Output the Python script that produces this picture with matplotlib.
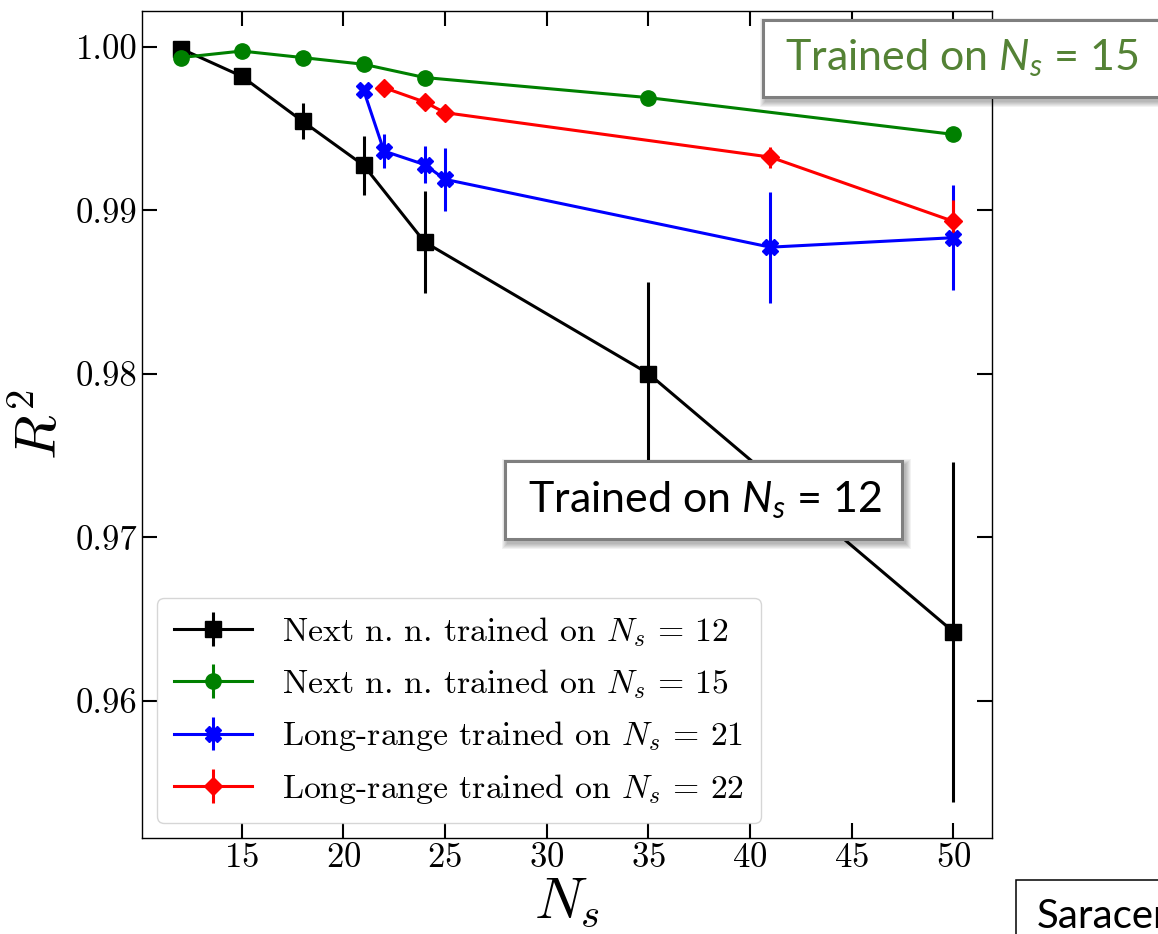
import numpy as np
import matplotlib
matplotlib.use("Agg")
import matplotlib.pyplot as plt
from matplotlib.patches import Rectangle

# R^2 of the predicted values against system size N_s
ns_nn12 = [12, 15, 18, 21, 24, 35, 50]
r2_nn12 = [0.99990, 0.99821, 0.99545, 0.99276, 0.98806, 0.98002, 0.96422]
err_nn12 = [0.0001, 0.0001, 0.0011, 0.0018, 0.0031, 0.0056, 0.0104]

ns_nn15 = [12, 15, 18, 21, 24, 35, 50]
r2_nn15 = [0.99935, 0.99975, 0.99935, 0.99894, 0.99813, 0.99690, 0.99465]
err_nn15 = [0.0001, 0.0001, 0.0001, 0.0001, 0.0001, 0.0001, 0.0001]

ns_lr21 = [21, 22, 24, 25, 41, 50]
r2_lr21 = [0.99735, 0.99363, 0.99280, 0.99190, 0.98775, 0.98833]
err_lr21 = [0.0002, 0.00104, 0.00115, 0.00194, 0.0034, 0.0032]

ns_lr22 = [22, 24, 25, 41, 50]
r2_lr22 = [0.99751, 0.99663, 0.99598, 0.99326, 0.98933]
err_lr22 = [0.0001, 0.0002, 0.0002, 0.00064, 0.0013]

labels = [r"Next n. n. trained on $N_s\,=\,12$",
          r"Next n. n. trained on $N_s\,=\,15$",
          r"Long-range trained on $N_s\,=\,21$",
          r"Long-range trained on $N_s\,=\,22$"]

plt.rcParams["font.family"] = "serif"
plt.rcParams["font.serif"] = ["cmr10"]
plt.rcParams["mathtext.fontset"] = "cm"
plt.rcParams["axes.formatter.use_mathtext"] = True
# fonts for the "custom" math set, used only by the slide boxes
plt.rcParams["mathtext.rm"] = "Lato"
plt.rcParams["mathtext.it"] = "Lato:italic"

W, H = 1158, 934
fig = plt.figure(figsize=(W / 100, H / 100), dpi=100)
ax = fig.add_axes([142 / W, 1 - 838 / H, (992 - 142) / W, (838 - 11) / H])

series = [(ns_nn12, r2_nn12, err_nn12, "k", "s", 11.5),
          (ns_nn15, r2_nn15, err_nn15, "green", "o", 11),
          (ns_lr21, r2_lr21, err_lr21, "blue", "X", 11.5),
          (ns_lr22, r2_lr22, err_lr22, "red", "D", 9)]
for (x, y, e, c, m, ms), lab in zip(series, labels):
    ax.errorbar(x, y, yerr=e, color=c, marker=m, ms=ms, lw=2.2, elinewidth=2.2,
                capsize=0, label=lab)

ax.set_xlim(10.1, 51.9)
ax.set_ylim(0.9516, 1.0022)
ax.set_xticks(np.arange(15, 51, 5))
ax.set_yticks([0.96, 0.97, 0.98, 0.99, 1.00])
ax.yaxis.set_major_formatter(plt.FormatStrFormatter("%.2f"))
ax.tick_params(direction="in", top=True, right=True, length=11, width=1.5,
               labelsize=25, pad=3)
for sp in ax.spines.values():
    sp.set_linewidth(1.0)

ax.set_xlabel(r"$N_s$", fontsize=42, labelpad=2)
ax.set_ylabel(r"$R^2$", fontsize=42, labelpad=6)

ax.legend(loc="lower left", fontsize=24.3, handlelength=2.3, handletextpad=0.9,
          labelspacing=0.55, borderpad=0.5, borderaxespad=0.45)


def px_rect(x0, y0, x1, y1, **kw):
    return Rectangle((x0 / W, 1 - y1 / H), (x1 - x0) / W, (y1 - y0) / H,
                     transform=fig.transFigure, **kw)


def slide_box(x0, y0, x1, y1, edge, lw, shadow=True):
    if shadow:
        for i in range(6):
            fig.add_artist(px_rect(x0 + 2 - i, y0 + 3 - i, x1 + 4 + i, y1 + 5 + i,
                                   facecolor="black", edgecolor="none",
                                   alpha=0.05, zorder=4))
    fig.add_artist(px_rect(x0, y0, x1, y1, facecolor="white", edgecolor=edge,
                           lw=lw, zorder=5))


def slide_text(x, y, s, color, size):
    fig.text(x / W, 1 - y / H, s, color=color, fontsize=size, family="Lato",
             math_fontfamily="custom", ha="left", va="center", zorder=6)


slide_box(763, 20, 1180, 97, "#7f7f7f", 2.2)
slide_text(785, 58, r"Trained on $N_s$ = 15", "#548235", 31)

slide_box(505, 461, 902, 539, "#7f7f7f", 2.2)
slide_text(528, 500, r"Trained on $N_s$ = 12", "black", 31)

slide_box(1016, 880, 1200, 960, "black", 1.1, shadow=False)
slide_text(1037, 916, "Saracen", "black", 29)

fig.savefig("out.png", dpi=100)
